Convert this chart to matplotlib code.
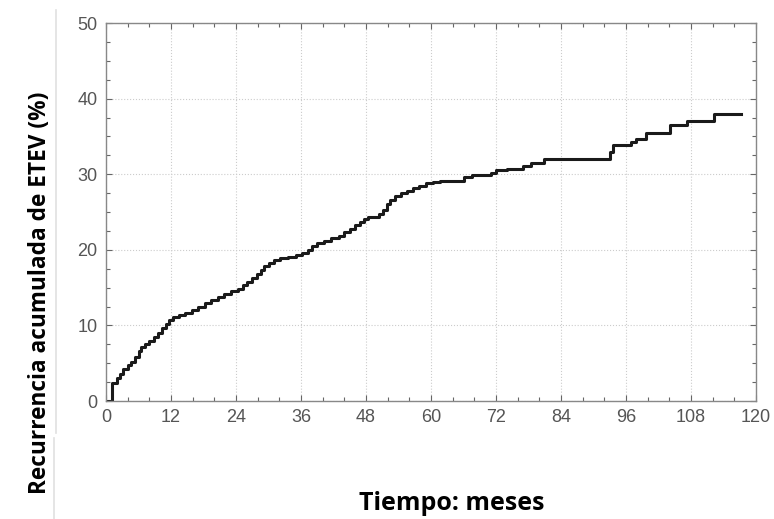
import numpy as np
import matplotlib
matplotlib.use("Agg")
import matplotlib.pyplot as plt
from matplotlib.lines import Line2D
from matplotlib.ticker import MultipleLocator

# Kaplan-Meier style cumulative recurrence (months, %)
tiempo = [0, 1.1, 2.0, 2.6, 3.2, 4.0, 4.6, 5.3, 6.0, 6.4, 7.2, 8.0, 8.8, 9.6,
          10.4, 11.0, 11.6, 12.4, 13.4, 14.6, 15.8, 17.0, 18.2, 19.4, 20.6,
          21.8, 23.0, 24.4, 25.2, 26.0, 27.0, 27.8, 28.6, 29.2, 30.0, 31.0,
          32.2, 33.6, 35.0, 36.2, 37.2, 38.0, 39.0, 40.2, 41.6, 43.0, 44.0,
          45.0, 46.0, 46.8, 47.6, 48.4, 50.4, 51.2, 51.8, 52.4, 53.4, 54.4,
          55.6, 56.6, 57.8, 59.0, 60.4, 61.6, 66.0, 67.6, 71.0, 72.0, 74.0,
          77.0, 78.4, 80.8, 93.0, 93.6, 97.0, 97.8, 99.6, 104.2, 107.2, 112.2,
          117.2]
recurrencia = [0, 2.4, 3.0, 3.6, 4.2, 4.7, 5.2, 5.8, 6.6, 7.2, 7.6, 8.0, 8.5,
               9.0, 9.6, 10.2, 10.7, 11.1, 11.4, 11.7, 12.0, 12.5, 13.0, 13.4,
               13.8, 14.2, 14.5, 14.8, 15.3, 15.8, 16.3, 16.8, 17.3, 17.8,
               18.2, 18.6, 18.9, 19.1, 19.3, 19.6, 20.0, 20.5, 20.9, 21.2,
               21.5, 21.8, 22.3, 22.8, 23.3, 23.7, 24.1, 24.4, 24.7, 25.3,
               26.0, 26.6, 27.1, 27.5, 27.8, 28.2, 28.5, 28.8, 29.0, 29.1,
               29.6, 29.9, 30.2, 30.5, 30.7, 31.1, 31.5, 32.0, 32.9, 33.8,
               34.2, 34.7, 35.4, 36.5, 37.1, 38.0, 38.0]

x_ticks = list(range(0, 121, 12))
y_ticks = list(range(0, 51, 10))

fig = plt.figure(figsize=(7.74, 5.19), dpi=100)
ax = fig.add_axes([106 / 774, 1 - 401 / 519, 650 / 774, 378 / 519])

ax.step(tiempo, recurrencia, where="post", color="#1a1a1a", lw=2.2)

ax.set_xlim(0, 120)
ax.set_ylim(0, 50)
ax.set_xticks(x_ticks)
ax.set_yticks(y_ticks)
ax.xaxis.set_minor_locator(MultipleLocator(4))
ax.yaxis.set_minor_locator(MultipleLocator(2.5))
ax.tick_params(which="both", direction="in", top=True, right=True,
               color="#666666", width=0.8)
ax.tick_params(which="major", length=4, labelsize=13, labelcolor="#555555",
               pad=6)
ax.tick_params(which="minor", length=3)
for lab in ax.get_xticklabels() + ax.get_yticklabels():
    lab.set_family("Liberation Sans")
for s in ax.spines.values():
    s.set_color("#888888")
    s.set_linewidth(1.0)
ax.grid(True, which="major", color="#cccccc", linestyle=":", linewidth=0.8)

fig.text(452 / 774, 1 - 504 / 519, "Tiempo: meses", ha="center", va="center",
         fontsize=18, fontweight="bold", family="Open Sans")
fig.text(40 / 774, 1 - 293 / 519, "Recurrencia acumulada de ETEV (%)",
         ha="center", va="center", rotation=90, fontsize=16.3,
         fontweight="bold", family="Open Sans")

# faint separator lines from the original slide
fig.add_artist(Line2D([56 / 774, 56 / 774], [1 - 10 / 519, 1 - 433 / 519],
                      color="#e0e0e0", lw=1.2))
fig.add_artist(Line2D([54 / 774, 54 / 774], [1 - 438 / 519, 0],
                      color="#e0e0e0", lw=1.2))

fig.savefig("out.png", dpi=100)
